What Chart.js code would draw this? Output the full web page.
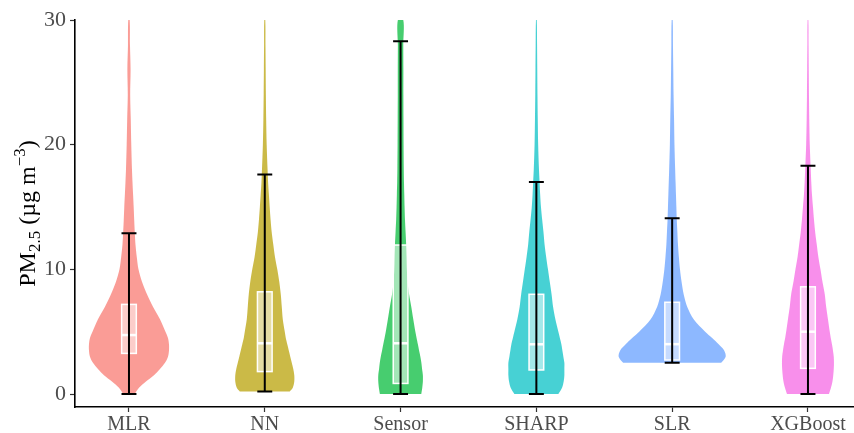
<!DOCTYPE html>
<html>
<head>
<meta charset="utf-8">
<script src="https://cdn.jsdelivr.net/npm/chart.js@4/dist/chart.umd.min.js"></script>
<style>
  html, body { margin: 0; padding: 0; background: #ffffff; }
  #wrap { width: 854px; height: 433px; }
</style>
</head>
<body>
<div id="wrap"><canvas id="c"></canvas></div>
<script>
// Models compared, in axis order
const categories = ['MLR', 'NN', 'Sensor', 'SHARP', 'SLR', 'XGBoost'];
const yTicks = [0, 10, 20, 30];

// Kernel density profile (relative units) at shared PM2.5 levels
const densityLevels = [0, 0.5, 1, 1.5, 2, 2.5, 3, 3.5, 4, 4.5, 5, 6, 7, 8, 9, 10, 11, 12, 13, 14, 15, 16, 17, 18, 20, 22, 24, 26, 28, 30];
const densityMLR     = [5.7, 10, 17, 25, 31, 36, 39, 40, 40, 39, 36.5, 31, 24, 18, 13, 9.5, 7.8, 6.5, 5.8, 5.2, 4.7, 4.1, 3.5, 3, 2.3, 1.8, 1.2, 1.6, 1, 0.7];
const densityNN      = [25, 28, 29.5, 29.5, 28.5, 27, 25.5, 24, 22.5, 21, 20, 18, 17, 16, 14.5, 12.5, 10.2, 8.5, 6.9, 5.8, 4.9, 4.1, 3.3, 2.8, 1.9, 1.4, 1.1, 0.9, 0.7, 0.5];
const densitySensor  = [20.7, 21.7, 22.3, 22.3, 21.5, 20.8, 19.8, 18.5, 17.3, 16, 14.8, 12.7, 10.7, 8.5, 7, 6.3, 6, 5.6, 5, 4.4, 4, 3.7, 3.4, 3.2, 3, 2.9, 2.8, 2.8, 2.7, 2.7];
const densitySHARP   = [22, 25.7, 27.3, 28, 28, 28, 27, 26, 25, 23.5, 22, 19, 16.7, 15.2, 13.4, 11.6, 9.8, 8.2, 7.1, 5.8, 4.6, 3.8, 3.2, 2.6, 1.8, 1.4, 1.1, 0.9, 0.7, 0.4];
const densitySLR     = [null, null, null, null, null, 49, 53.5, 52, 46.5, 40, 33, 21.5, 15, 11.5, 9.4, 7.8, 6.7, 5.8, 5.2, 4.6, 4.2, 3.8, 3.4, 3, 2.3, 1.9, 1.4, 1.1, 0.8, 0.5];
const densityXGBoost = [21, 23, 24.5, 25.3, 25.8, 26, 25.8, 25, 24, 22.8, 21.8, 20, 18.2, 16.8, 14.5, 12.5, 10.4, 8.8, 7.2, 6, 5, 4, 3.3, 2.8, 1.8, 1.3, 1, 0.8, 0.6, 0.4];

// Lowest observed value of each model (violin is trimmed there)
const dataMin = [0, 0.2, 0, 0, 2.5, 0];

// Box plot statistics
const q1 = [3.26, 1.8, 0.85, 1.93, 2.73, 2.06];
const median = [4.73, 4.07, 4.07, 3.99, 4.0, 5.0];
const q3 = [7.19, 8.2, 11.95, 8.0, 7.36, 8.6];

// Error bar range
const whiskerLow = [0, 0.2, 0, 0, 2.5, 0];
const whiskerHigh = [12.9, 17.6, 28.3, 17.0, 14.1, 18.3];

// ---- styling ----
const hues = ['#F8766D', '#B79F00', '#00BA38', '#00BFC4', '#619CFF', '#F564E3'];
const WIDTH_PER_DENSITY = 1 / 135.8;   // category units per density unit
const BOX_HALF = 0.054;                // category units
const CAP_HALF = 0.055;
const SERIF = "'Liberation Serif', 'DejaVu Serif', serif";

function withAlpha(hex, a) {
  const n = parseInt(hex.slice(1), 16);
  return `rgba(${(n >> 16) & 255}, ${(n >> 8) & 255}, ${n & 255}, ${a})`;
}

const densities = [densityMLR, densityNN, densitySensor, densitySHARP, densitySLR, densityXGBoost];

// Outline of each violin: up the left side, down the right side
const violinDatasets = densities.map((dens, i) => {
  const center = i + 1;
  const left = [], right = [];
  densityLevels.forEach((lvl, j) => {
    const d = dens[j];
    if (d === null) return;
    const y = Math.max(lvl, dataMin[i]);
    const hw = d * WIDTH_PER_DENSITY;
    left.push({ x: center - hw, y });
    right.push({ x: center + hw, y });
  });
  return {
    label: categories[i],
    data: left.concat(right.reverse()),
    backgroundColor: withAlpha(hues[i], 0.72),
    borderColor: 'rgba(0,0,0,0)',
    borderWidth: 0,
    pointRadius: 0,
    pointHoverRadius: 0,
    tension: 0.3,
    fill: 'shape'
  };
});

// Boxes and error bars on top of the violins
const boxPlugin = {
  id: 'boxAndErrorBars',
  afterDatasetsDraw(chart) {
    const { ctx, scales: { x, y }, chartArea } = chart;
    ctx.save();
    ctx.beginPath();
    ctx.rect(chartArea.left, chartArea.top, chartArea.right - chartArea.left, chartArea.bottom - chartArea.top);
    ctx.clip();
    categories.forEach((_, i) => {
      const c = i + 1;
      const xl = x.getPixelForValue(c - BOX_HALF);
      const xr = x.getPixelForValue(c + BOX_HALF);
      const yt = y.getPixelForValue(q3[i]);
      const yb = y.getPixelForValue(q1[i]);
      ctx.fillStyle = 'rgba(255,255,255,0.5)';
      ctx.fillRect(xl, yt, xr - xl, yb - yt);
      ctx.strokeStyle = '#ffffff';
      ctx.lineWidth = 1.5;
      ctx.strokeRect(xl, yt, xr - xl, yb - yt);
      const ym = y.getPixelForValue(median[i]);
      ctx.lineWidth = 2.5;
      ctx.beginPath();
      ctx.moveTo(xl, ym);
      ctx.lineTo(xr, ym);
      ctx.stroke();

      // error bar
      const xc = x.getPixelForValue(c);
      const cl = x.getPixelForValue(c - CAP_HALF);
      const cr = x.getPixelForValue(c + CAP_HALF);
      const lo = y.getPixelForValue(whiskerLow[i]);
      const hi = y.getPixelForValue(whiskerHigh[i]);
      ctx.strokeStyle = '#000000';
      ctx.lineWidth = 2;
      ctx.beginPath();
      ctx.moveTo(xc, lo); ctx.lineTo(xc, hi);
      ctx.moveTo(cl, lo); ctx.lineTo(cr, lo);
      ctx.moveTo(cl, hi); ctx.lineTo(cr, hi);
      ctx.stroke();
    });
    ctx.restore();
  }
};

// Y axis title with subscript and superscript
const yTitlePlugin = {
  id: 'yTitle',
  afterDraw(chart) {
    const { ctx, chartArea } = chart;
    const parts = [
      { t: 'PM', size: 24, dy: 0 },
      { t: '2.5', size: 17, dy: 5 },
      { t: ' (\u00b5g m', size: 24, dy: 0 },
      { t: '\u22123', size: 17, dy: -10 },
      { t: ')', size: 24, dy: 0 }
    ];
    ctx.save();
    let total = 0;
    parts.forEach(p => { ctx.font = `${p.size}px ${SERIF}`; p.w = ctx.measureText(p.t).width; total += p.w; });
    const cx = 35;
    const cy = (chartArea.top + chartArea.bottom) / 2;
    ctx.translate(cx, cy);
    ctx.rotate(-Math.PI / 2);
    ctx.fillStyle = '#000000';
    ctx.textBaseline = 'alphabetic';
    let xPos = -total / 2;
    parts.forEach(p => {
      ctx.font = `${p.size}px ${SERIF}`;
      ctx.fillText(p.t, xPos, p.dy);
      xPos += p.w;
    });
    ctx.restore();
  }
};

new Chart(document.getElementById('c'), {
  type: 'line',
  data: { datasets: violinDatasets },
  plugins: [boxPlugin, yTitlePlugin],
  options: {
    responsive: true,
    maintainAspectRatio: false,
    animation: false,
    events: [],
    layout: { padding: { left: 0, right: 0, top: 20, bottom: 0 } },
    plugins: { legend: { display: false }, tooltip: { enabled: false } },
    scales: {
      x: {
        type: 'linear',
        min: 0.6025,
        max: 6.339,
        afterBuildTicks: s => { s.ticks = categories.map((_, i) => ({ value: i + 1 })); },
        afterFit: s => { s.height = 26; },
        grid: { display: true, drawOnChartArea: false, drawTicks: true, tickLength: 5, color: '#333333', tickWidth: 1.2 },
        border: { display: true, color: '#000000', width: 1.6 },
        ticks: {
          callback: v => categories[v - 1],
          font: { family: SERIF, size: 20 },
          color: '#4d4d4d',
          padding: 1,
          maxRotation: 0,
          autoSkip: false
        }
      },
      y: {
        type: 'linear',
        min: -1.04,
        max: 30,
        afterBuildTicks: s => { s.ticks = yTicks.map(v => ({ value: v })); },
        afterFit: s => { s.width = 75; },
        grid: { display: true, drawOnChartArea: false, drawTicks: true, tickLength: 5, color: '#333333', tickWidth: 1.2 },
        border: { display: true, color: '#000000', width: 1.6 },
        ticks: {
          font: { family: SERIF, size: 22 },
          color: '#4d4d4d',
          padding: 4
        }
      }
    }
  }
});
</script>
</body>
</html>
